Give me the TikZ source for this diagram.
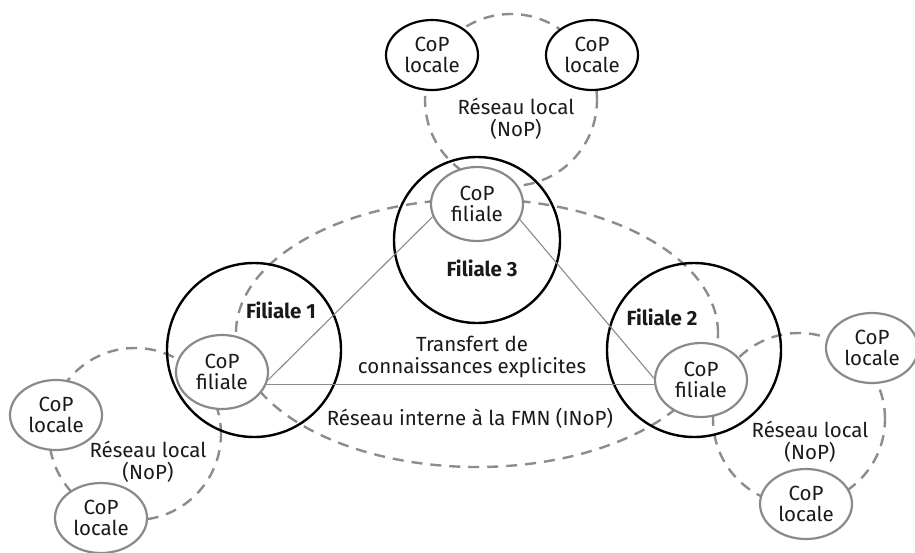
\documentclass[tikz,border=0pt]{standalone}
\usepackage{fontspec}
\setmainfont{Fira Sans}
\usetikzlibrary{shapes.geometric}
\definecolor{dgray}{HTML}{8A8A8A}
\definecolor{lgray}{HTML}{8C8C8C}
\definecolor{txt}{HTML}{1A1A1A}
\begin{document}
\begin{tikzpicture}[x=1pt,y=-1pt,
  every node/.style={text=txt,font=\fontsize{20.5}{21.5}\selectfont,align=center},
  netdash/.style={draw=lgray,line width=2.4pt,dash pattern=on 11pt off 8pt},
  bigcirc/.style={circle,draw=black,line width=2.4pt,inner sep=0pt},
  copf/.style={ellipse,draw=dgray,line width=2.2pt,fill=white,inner sep=0pt,minimum width=92pt,minimum height=74pt},
  copl/.style={ellipse,draw=dgray,line width=2.2pt,fill=white,inner sep=0pt,minimum width=92pt,minimum height=70pt},
  copk/.style={copl,draw=black},
  link/.style={draw=dgray,line width=1.1pt},
  flab/.style={font=\fontsize{20.5}{21.5}\selectfont\bfseries}
]
\useasboundingbox (0,0) rectangle (915,552);
% dashed networks
\draw[netdash] (511,100) circle[radius=86pt];
\draw[netdash] (135,434) circle[radius=86pt];
\draw[netdash] (799,419) circle[radius=86pt];
\draw[netdash] (477,333) ellipse[x radius=241pt,y radius=134pt];
% subsidiaries
\node[bigcirc,minimum size=174pt] (f1) at (254,350) {};
\node[bigcirc,minimum size=174pt] (f2) at (694,350) {};
\node[bigcirc,minimum size=166pt] (f3) at (477,240) {};
\node[flab] (f1l) at (281,310) {Filiale 1};
\node[flab] (f2l) at (662,317) {Filiale 2};
\node[flab] (f3l) at (482,268) {Filiale 3};
% CoP filiale
\node[copf] (cf1) at (222,372) {CoP\\filiale};
\node[copf] (cf2) at (701,380) {CoP\\filiale};
\node[copf] (cf3) at (477,204) {CoP\\filiale};
% CoP locale
\node[copk] (cl1) at (432,55) {CoP\\locale};
\node[copk] (cl2) at (592,55) {CoP\\locale};
\node[copl] (cl3) at (56,415) {CoP\\locale};
\node[copl] (cl4) at (101,518) {CoP\\locale};
\node[copl] (cl5) at (872,348) {CoP\\locale};
\node[copl] (cl6) at (806,504) {CoP\\locale};
% links
\draw[link] (cf1.-10) -- (cf3.196);
\draw[link] (cf3.-20) -- (cf2.178);
\draw[link] (cf1.-16) -- (cf1.-16 -| cf2.west);
% labels
\node (n1) at (516,119) {Réseau local\\(NoP)};
\node (n2) at (148,462) {Réseau local\\(NoP)};
\node (n3) at (810,442) {Réseau local\\(NoP)};
\node (tr) at (472,357) {Transfert de\\connaissances explicites};
\node (inop) at (470,418) {Réseau interne à la FMN (INoP)};
\end{tikzpicture}
\end{document}
